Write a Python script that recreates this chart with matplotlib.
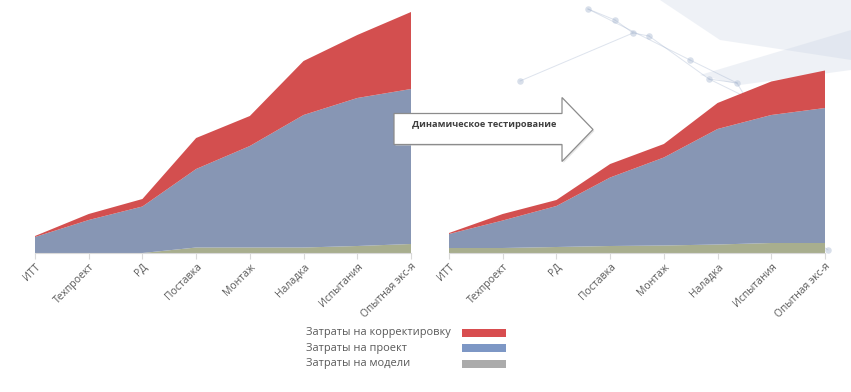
import matplotlib.pyplot as plt
from matplotlib.patches import Polygon, Rectangle

plt.rcParams['font.family'] = ['Open Sans', 'DejaVu Sans']

stages = ["ИТТ", "Техпроект", "РД", "Поставка", "Монтаж", "Наладка", "Испытания", "Опытная экс-я"]

# left chart (before)
models_left = [0, 0, 0, 5.5, 5.5, 5.5, 7, 9]
project_left = [16, 33, 46.5, 78.5, 101.5, 132.5, 148, 155]
correction_left = [1, 6, 7.5, 31, 30, 54, 63, 77]

# right chart (with dynamic testing)
models_right = [5, 5, 6, 7, 7.5, 8.5, 10, 10]
project_right = [14, 27.5, 41, 68.5, 88, 115.5, 128, 135]
correction_right = [1, 6.5, 6, 13.5, 13.5, 26, 33.5, 37.5]

series_names = ["Затраты на корректировку", "Затраты на проект", "Затраты на модели"]
area_colors = ["#d34f4f", "#8796b4", "#a8ae8e"]
legend_colors = ["#d84d4f", "#7d97c5", "#ababab"]

W, H = 851, 392
fig = plt.figure(figsize=(W / 100, H / 100), dpi=100)

# faint network decoration behind the right chart
bg = fig.add_axes([0, 0, 1, 1])
bg.set_xlim(0, W)
bg.set_ylim(H, 0)
bg.axis("off")
nodes = [(588, 9), (615, 20), (633, 33), (649, 36), (709, 79), (737, 83),
         (807, 127), (778, 152), (710, 167), (520, 81), (828, 250), (690, 60)]
links = [(3, 4), (4, 5), (4, 6), (0, 1), (1, 2), (2, 3), (5, 7), (6, 7),
         (7, 8), (9, 2), (8, 10), (11, 5), (0, 11)]
for a, b in links:
    bg.plot([nodes[a][0], nodes[b][0]], [nodes[a][1], nodes[b][1]],
            color="#9fb0cc", lw=0.7, alpha=0.35)
bg.scatter([n[0] for n in nodes], [n[1] for n in nodes], s=22,
           color="#9fb0cc", alpha=0.4, lw=0)
bg.add_patch(Polygon([(660, 0), (851, 0), (851, 60), (720, 40)], closed=True,
                     fc="#c9d3e3", ec="none", alpha=0.3))
bg.add_patch(Polygon([(700, 75), (851, 30), (851, 70), (740, 85)], closed=True,
                     fc="#c9d3e3", ec="none", alpha=0.3))

def draw(x0, x1, models, project, correction):
    ax = fig.add_axes([x0 / W, (H - 253) / H, (x1 - x0) / W, 253 / H])
    x = range(len(stages))
    ax.stackplot(x, models, project, correction,
                 colors=[area_colors[2], area_colors[1], area_colors[0]], lw=0)
    ax.set_xlim(0, len(stages) - 1)
    ax.set_ylim(0, 253)
    ax.patch.set_alpha(0)
    for s in ["top", "right", "left"]:
        ax.spines[s].set_visible(False)
    ax.spines["bottom"].set_color("#d9d9d9")
    ax.set_yticks([])
    ax.set_xticks(list(x))
    ax.set_xticklabels(stages, rotation=45, ha="right", rotation_mode="anchor",
                       fontsize=7.5, color="#595959")
    ax.tick_params(axis="x", length=4, color="#d9d9d9", pad=2)
    return ax

ax1 = draw(35, 411, models_left, project_left, correction_left)
ax2 = draw(449, 825, models_right, project_right, correction_right)

# arrow "Динамическое тестирование"
ov = fig.add_axes([0, 0, 1, 1])
ov.set_xlim(0, W)
ov.set_ylim(H, 0)
ov.axis("off")
ov.patch.set_alpha(0)
arrow = [(394, 113.5), (562, 113.5), (562, 97.5), (593, 129.5),
         (562, 161.5), (562, 144.5), (394, 144.5)]
ov.add_patch(Polygon([(a + 1.5, b + 1.5) for a, b in arrow], closed=True,
                     fc="#cccccc", ec="none", alpha=0.5))
ov.add_patch(Polygon(arrow, closed=True, fc="white", ec="#8c8c8c", lw=0.9))
ov.text(412, 124, "Динамическое тестирование", fontsize=6.7, fontweight="bold",
        color="#404040", va="center", ha="left")

# legend
rows = [332.5, 348, 363.5]
for name, col, y in zip(series_names, legend_colors, rows):
    ov.text(306, y, name, fontsize=7.9, color="#595959", va="center", ha="left")
    ov.add_patch(Rectangle((462, y - 4), 44, 8, fc=col, ec="none"))

plt.savefig("out.png", dpi=100)
